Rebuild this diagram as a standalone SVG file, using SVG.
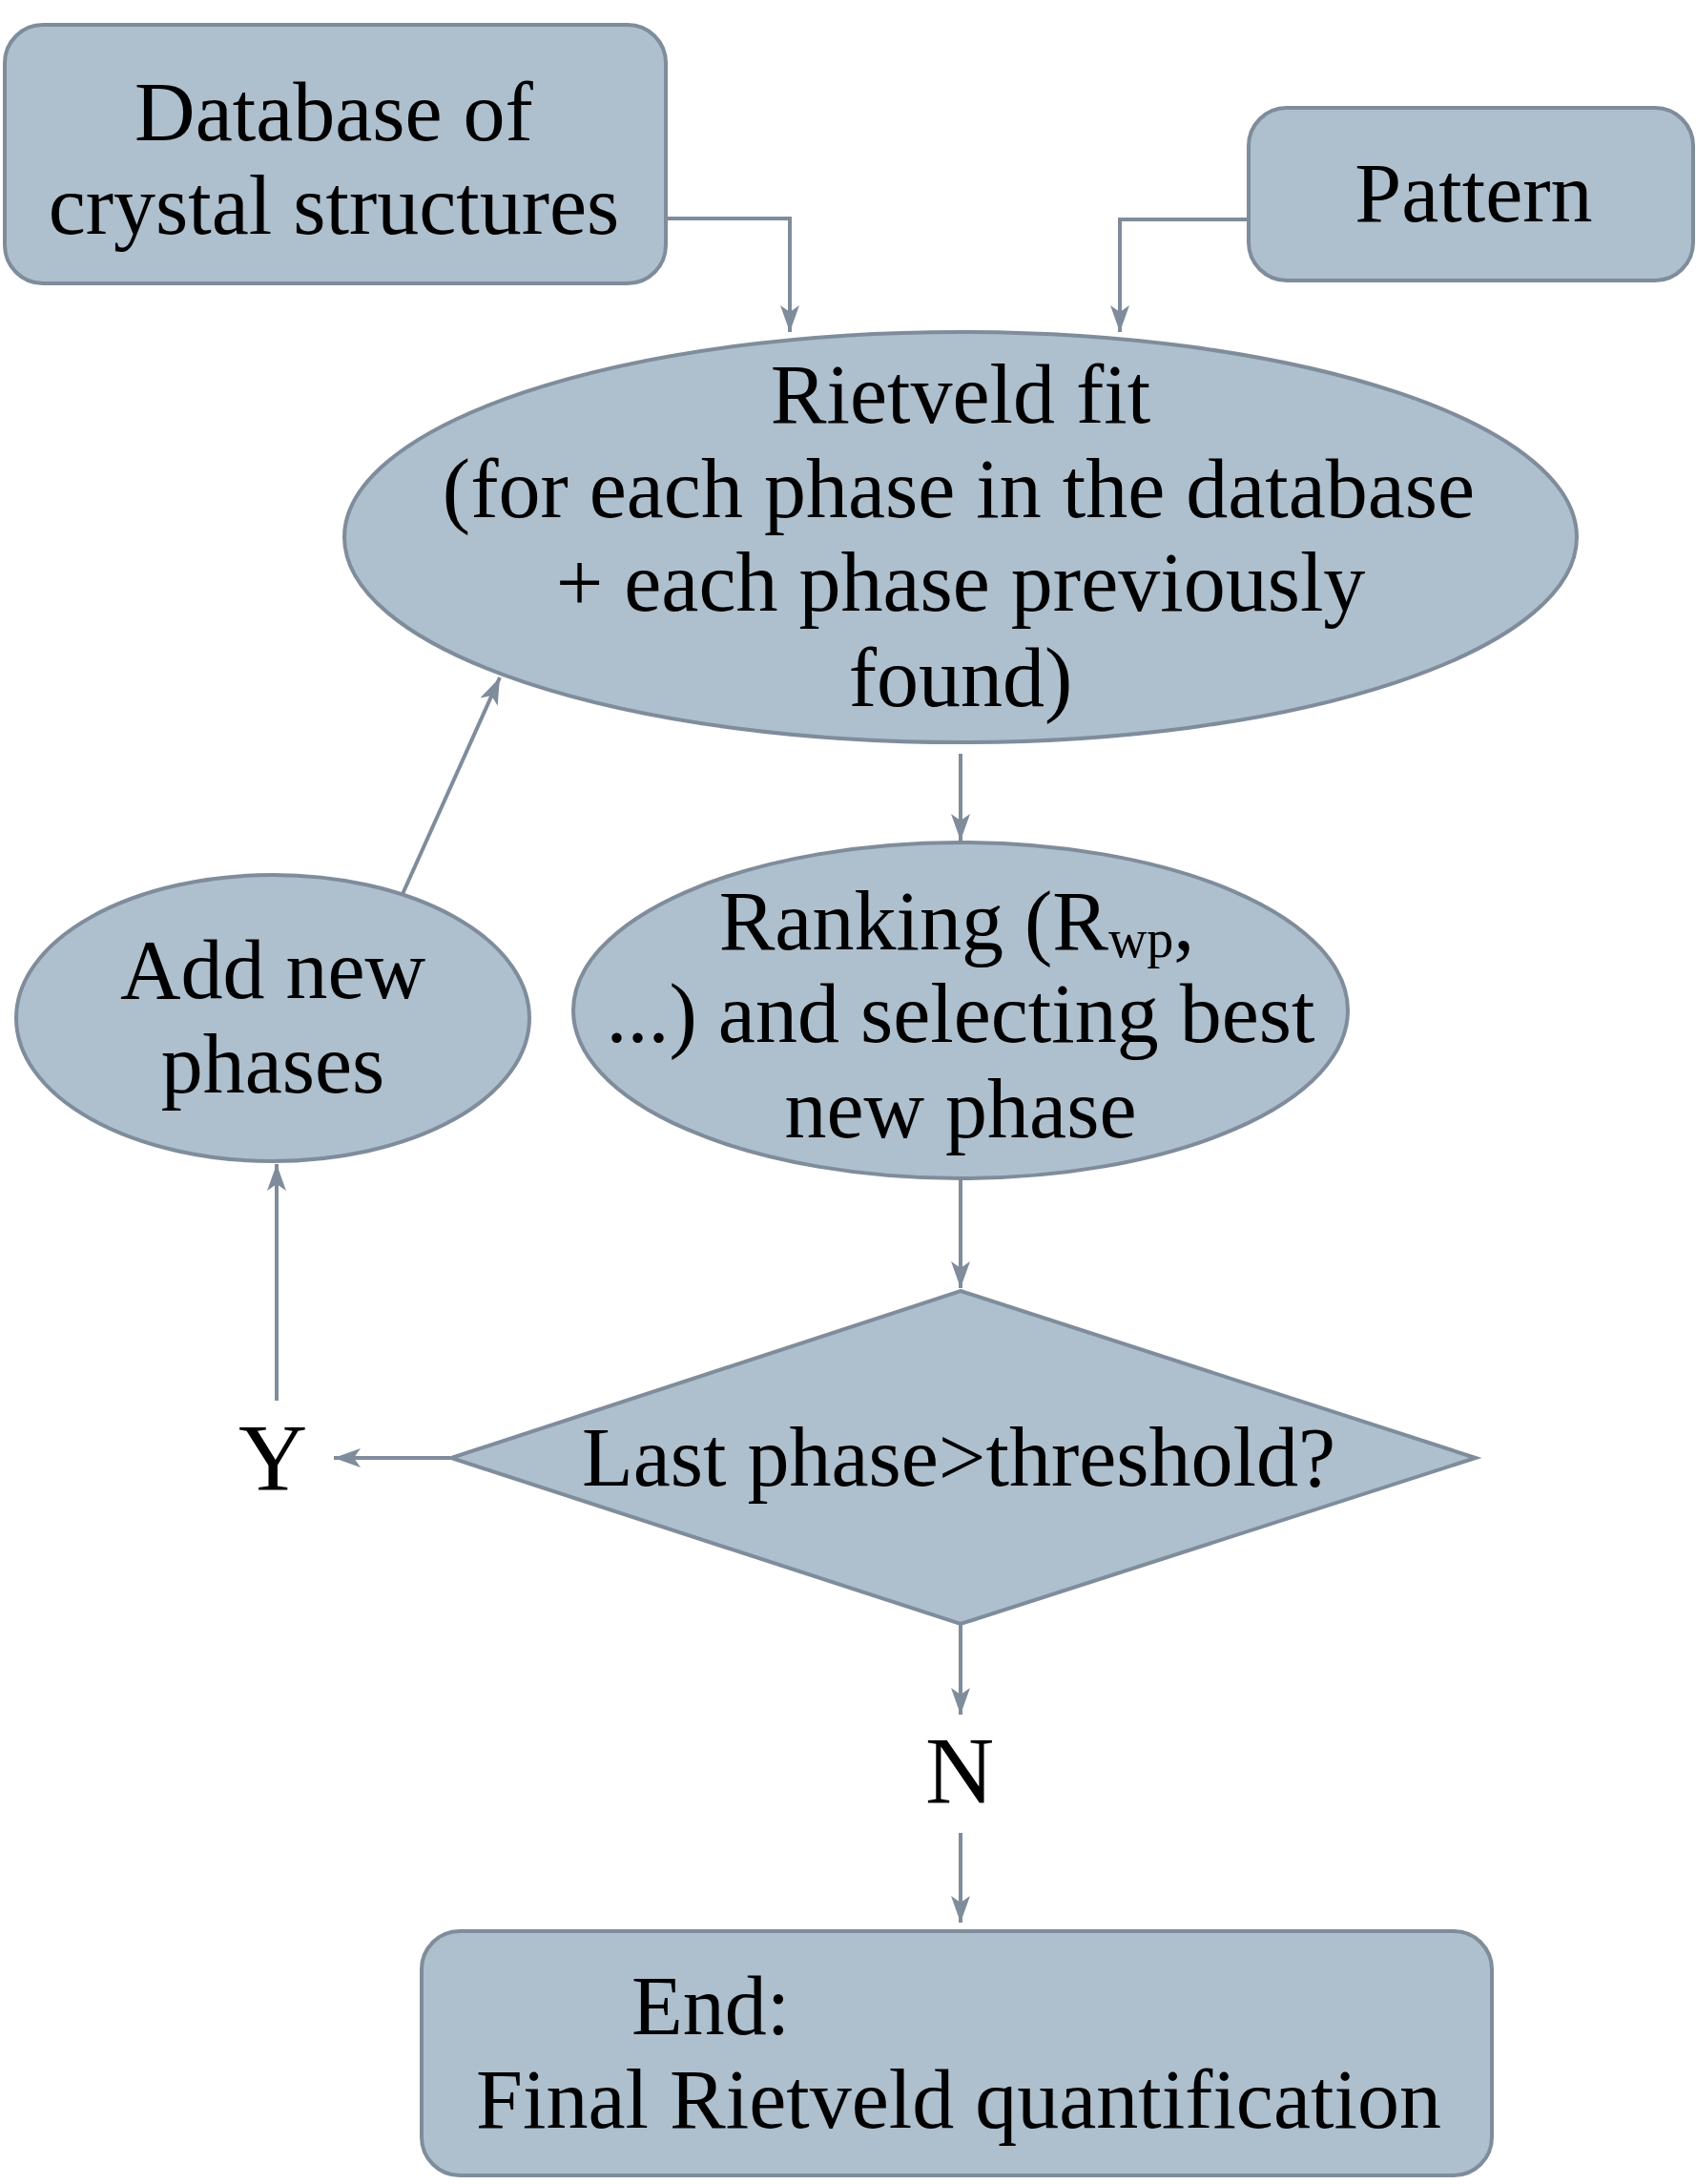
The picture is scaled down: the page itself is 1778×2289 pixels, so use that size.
<svg xmlns="http://www.w3.org/2000/svg" width="1778" height="2289" viewBox="0 0 1778 2289">
<style>
.shape{fill:#aebfcd;stroke:#7f8c9b;stroke-width:4}
.t{font-family:"Liberation Serif","Times New Roman",serif;font-size:88px;fill:#000;text-anchor:middle}
.lbl{font-family:"Liberation Serif","Times New Roman",serif;font-size:100px;fill:#000;text-anchor:middle}
.conn{fill:none;stroke:#7f8c9b;stroke-width:4}
</style>
<defs>
<marker id="arr" markerUnits="userSpaceOnUse" markerWidth="30" markerHeight="24" viewBox="0 0 30 24" refX="28" refY="12" orient="auto">
<path d="M0,2 L28,12 L0,22 L7,12 Z" fill="#7f8c9b"/>
</marker>
</defs>
<rect width="1778" height="2289" fill="#fff"/>
<g id="connectors">
<path class="conn" d="M698,229 H828 V348" marker-end="url(#arr)"/>
<path class="conn" d="M1308,230 H1174 V348" marker-end="url(#arr)"/>
<path class="conn" d="M1007,790 V881" marker-end="url(#arr)"/>
<path class="conn" d="M422,937 L524,710" marker-end="url(#arr)"/>
<path class="conn" d="M1007,1237 V1350" marker-end="url(#arr)"/>
<path class="conn" d="M472,1528 H350" marker-end="url(#arr)"/>
<path class="conn" d="M290,1468 V1220" marker-end="url(#arr)"/>
<path class="conn" d="M1007,1702 V1797" marker-end="url(#arr)"/>
<path class="conn" d="M1007,1921 V2015" marker-end="url(#arr)"/>
</g>
<g id="database">
<rect class="shape" x="5" y="26" width="693" height="271" rx="40"/>
<text class="t" x="350" y="147">Database of</text>
<text class="t" x="350" y="245">crystal structures</text>
</g>
<g id="pattern">
<rect class="shape" x="1309" y="113" width="466" height="181" rx="40"/>
<text class="t" x="1545" y="232">Pattern</text>
</g>
<g id="rietveld">
<ellipse class="shape" cx="1007" cy="563" rx="646" ry="215"/>
<text class="t" x="1007" y="443">Rietveld fit</text>
<text class="t" x="1005" y="542">(for each phase in the database</text>
<text class="t" x="1007" y="640">+ each phase previously</text>
<text class="t" x="1007" y="740">found)</text>
</g>
<g id="ranking">
<ellipse class="shape" cx="1007" cy="1059" rx="406" ry="176"/>
<text class="t" x="1003" y="995">Ranking (R<tspan font-size="56" dy="8">wp</tspan><tspan dy="-8">,</tspan></text>
<text class="t" x="1007" y="1092">...) and selecting best</text>
<text class="t" x="1007" y="1192">new phase</text>
</g>
<g id="addnew">
<ellipse class="shape" cx="286" cy="1067" rx="269" ry="150"/>
<text class="t" x="286" y="1046">Add new</text>
<text class="t" x="286" y="1145">phases</text>
</g>
<g id="decision">
<polygon class="shape" points="1007,1353 1547,1528 1007,1702 473,1528"/>
<text class="t" x="1005" y="1557">Last phase&gt;threshold?</text>
</g>
<g id="label-y">
<text class="lbl" x="286" y="1561">Y</text>
</g>
<g id="label-n">
<text class="lbl" x="1006" y="1889">N</text>
</g>
<g id="end">
<rect class="shape" x="442" y="2024" width="1122" height="256" rx="40"/>
<text class="t" x="662" y="2132" style="text-anchor:start">End:</text>
<text class="t" x="1005" y="2230">Final Rietveld quantification</text>
</g>
</svg>
